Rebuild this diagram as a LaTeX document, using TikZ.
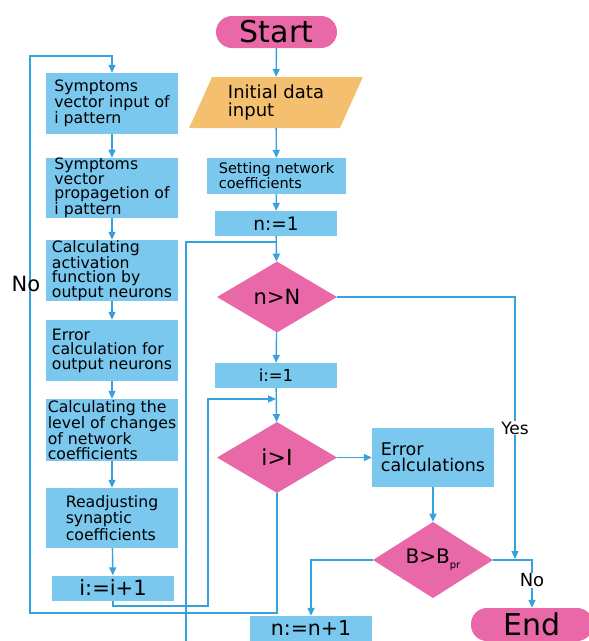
\documentclass[tikz,border=0pt]{standalone}
\usepackage{fontspec}
\setmainfont{DejaVu Sans}
\usetikzlibrary{shapes.geometric,arrows.meta}

\definecolor{boxblue}{HTML}{7AC8EE}
\definecolor{flowpink}{HTML}{E868A8}
\definecolor{dataorange}{HTML}{F4BF6F}
\definecolor{lineblue}{HTML}{34A2DE}

\tikzset{
  box/.style={fill=boxblue, minimum width=132pt, inner sep=0pt, align=left,
    font=\fontsize{15.7}{14.5}\selectfont},
  smallbox/.style={fill=boxblue, minimum width=122pt, minimum height=25pt, inner sep=0pt},
  terminal/.style={fill=flowpink, rounded corners=16pt, minimum width=121pt,
    minimum height=32pt, inner sep=0pt, font=\fontsize{30}{30}\selectfont},
  decision/.style={diamond, fill=flowpink, minimum width=120pt, minimum height=71pt,
    inner sep=0pt, font=\fontsize{21}{21}\selectfont},
  line/.style={draw=lineblue, line width=1.4pt},
  arr/.style={line, -{Triangle[length=8pt,width=7pt]}},
  lbl/.style={inner sep=1pt},
}

\begin{document}
\begin{tikzpicture}[x=1pt,y=-1pt]
  \useasboundingbox (0,0) rectangle (589,641);

  % main column
  \node[terminal] (start) at (276.5,32) {Start};
  \node[trapezium, trapezium left angle=64, trapezium right angle=116,
    trapezium stretches=true, fill=dataorange, minimum width=174pt,
    minimum height=51pt, inner sep=0pt, align=left,
    font=\fontsize{18}{18}\selectfont] (input) at (276,102.5) {Initial data\\input};
  \node[box, minimum width=139pt, minimum height=36pt,
    font=\fontsize{14.5}{14}\selectfont] (setcoef) at (276.5,176) {Setting network\\coefficients};
  \node[smallbox, font=\fontsize{18.5}{18.5}\selectfont] (n1) at (276,223.5) {n:=1};
  \node[decision] (nN) at (277,297) {n>N};
  \node[smallbox, font=\fontsize{16.5}{16.5}\selectfont] (i1) at (276,375.5) {i:=1};
  \node[decision, font=\fontsize{22}{22}\selectfont] (iI) at (277,457.5) {i>I};
  \node[box, minimum width=122pt, minimum height=59pt,
    font=\fontsize{17.5}{16}\selectfont] (err) at (433,457.5) {Error\\calculations};
  \node[decision, minimum height=72pt, font=\fontsize{20}{20}\selectfont] (Bpr) at (433,560)
    {B>B\raisebox{-0.45ex}{\fontsize{10}{10}\selectfont pr}};
  \node[smallbox, font=\fontsize{20.5}{20.5}\selectfont] (nn1) at (311,628.5) {n:=n+1};
  \node[terminal, minimum width=122pt, minimum height=33pt] (end) at (532,624.5) {End};

  % inner loop
  \node[box, minimum height=61pt] (sympin) at (112,103.5) {Symptoms\\vector input of\\i pattern};
  \node[box, minimum height=60pt] (symprop) at (112,188) {Symptoms\\vector\\propagetion of\\i pattern};
  \node[box, minimum height=61pt] (activ) at (112,270.5) {Calculating\\activation\\function by\\output neurons};
  \node[box, minimum height=61pt] (outerr) at (112,350.5) {Error\\calculation for\\output neurons};
  \node[box, minimum height=62pt] (level) at (112,430) {Calculating the\\level of changes\\of network\\coefficients};
  \node[box, minimum height=60pt] (readj) at (112,518) {Readjusting\\synaptic\\coefficients};
  \node[smallbox, font=\fontsize{21}{21}\selectfont] (ii1) at (113,588) {i:=i+1};

  \coordinate (njoin) at (276,242);
  \coordinate (nloop) at (186,641);
  \coordinate (ijoin) at (276,399);
  \coordinate (iturn) at (208,606);
  \coordinate (oturnA) at (30,613);
  \coordinate (oturnB) at (30,56);
  \coordinate (yesend) at (515,559);

  \draw[arr] (start) -- (input);
  \draw[arr] (input) -- (setcoef);
  \draw[arr] (setcoef) -- (n1);
  \draw[arr] (n1) -- (nN);
  \draw[line] (nloop) |- (njoin);
  \draw[arr] (nN) -- (i1);
  \draw[arr] (i1) -- (iI);
  \draw[arr] (iI) -- (err);
  \draw[arr] (err) -- (Bpr);
  \draw[arr] (Bpr.west) -| (nn1.north);
  \draw[arr] (Bpr.east) -| node[lbl, pos=0.715, fill=white, font=\fontsize{18}{18}\selectfont] {No} (end.north);
  \draw[arr] (nN.east) -| node[lbl, pos=0.75, fill=white, font=\fontsize{17}{17}\selectfont] {Yes} (yesend);

  \draw[arr] (sympin) -- (symprop);
  \draw[arr] (symprop) -- (activ);
  \draw[arr] (activ) -- (outerr);
  \draw[arr] (outerr) -- (level);
  \draw[arr] (level) -- (readj);
  \draw[arr] (readj) -- (ii1);
  \draw[arr] (ii1.south) |- (iturn) |- (ijoin);
  \draw[arr] (iI.south) |- (oturnA) -- (oturnB) -| (sympin.north);

  \node[font=\fontsize{21}{21}\selectfont] (nolbl) at (26,284) {No};

\end{tikzpicture}
\end{document}
